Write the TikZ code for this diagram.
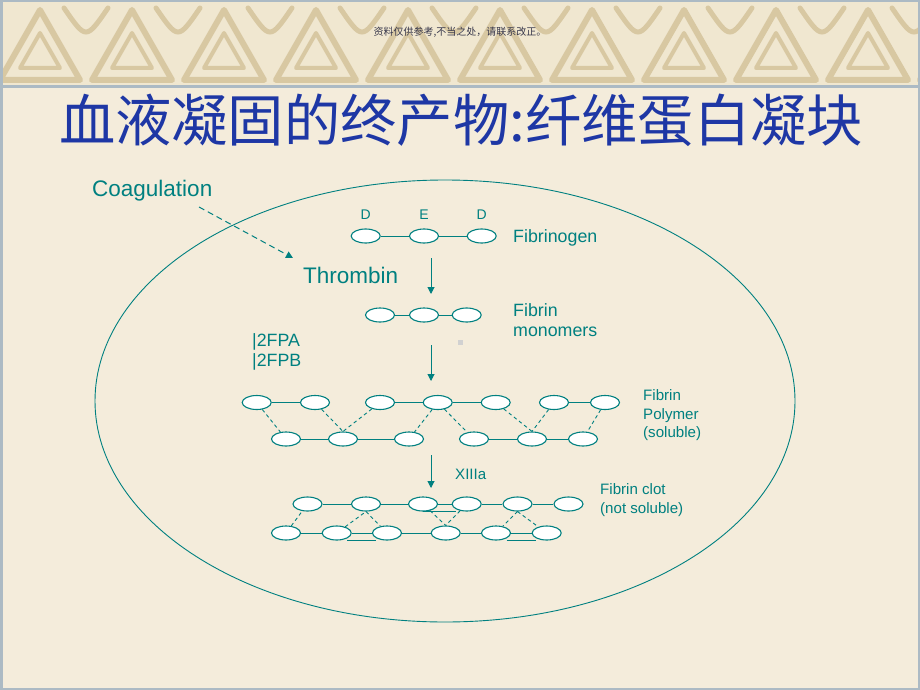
\documentclass[tikz,border=0pt]{standalone}
\usepackage{fontspec}
\setmainfont{Liberation Sans}
\newfontfamily\cjk{Noto Sans CJK SC}
\usetikzlibrary{shapes.geometric,arrows.meta}

\definecolor{fibteal}{RGB}{0,128,128}
\definecolor{titleblue}{RGB}{30,55,165}
\definecolor{paper}{RGB}{244,236,219}
\definecolor{band}{RGB}{240,231,208}
\definecolor{knot}{RGB}{216,200,162}
\definecolor{rim}{RGB}{172,186,196}
\definecolor{notegray}{RGB}{55,55,75}

\begin{document}
\begin{tikzpicture}[x=1pt, y=-1pt,
  blob/.style={ellipse, draw=fibteal, fill=white, line width=1.1pt,
    minimum width=29pt, minimum height=14pt, inner sep=0pt},
  bond/.style={fibteal, line width=1pt},
  link/.style={fibteal, line width=0.9pt, dash pattern=on 3.5pt off 3pt},
  flow/.style={fibteal, line width=1pt, -{Triangle[width=7pt,length=7pt]}},
  big/.style={fibteal, inner sep=0pt, font=\fontsize{22.5}{26}\selectfont},
  mid/.style={fibteal, inner sep=0pt, align=left, font=\fontsize{17.8}{20.5}\selectfont},
  small/.style={fibteal, inner sep=0pt, align=left, font=\fontsize{15.1}{18.5}\selectfont}]

% Background and frame
\fill[paper] (0,0) rectangle (920,690);
\useasboundingbox (0,0) rectangle (920,690);
\fill[band] (0,0) rectangle (920,87);
\foreach \cx in {40,132,...,960} {
  \draw[knot, line width=6pt, line join=round] (\cx-40,80) -- (\cx,10) -- (\cx+40,80) -- cycle;
  \draw[knot, line width=4pt, line join=round] (\cx-20,68) -- (\cx,33) -- (\cx+20,68) -- cycle;
  \draw[knot, line width=5pt, line cap=round] (\cx+24,8) .. controls (\cx+46,40) .. (\cx+68,8);
}
\draw[rim, line width=3pt] (0,87) -- (920,87);
\draw[rim, line width=2.5pt] (1.25,1.25) rectangle (918.75,688.75);
\node[notegray, font=\cjk\fontsize{10}{12}\selectfont] (note) at (460,32) {资料仅供参考,不当之处，请联系改正。};

% Title
\node[titleblue, font=\cjk\fontsize{56.3}{60}\selectfont] (title) at (461,120) {血液凝固的终产物:纤维蛋白凝块};

% Cell outline
\draw[fibteal, line width=0.9pt] (445,401) ellipse [x radius=350, y radius=221];
\fill[black!18] (458,340) rectangle (463,345);

% Coagulation -> Thrombin
\node[big, anchor=mid west] (coag) at (92,194) {Coagulation};
\node[big, anchor=mid west] (thr) at (303,281) {Thrombin};
\coordinate (c1) at (199,207);
\coordinate (c2) at (293,258);
\draw[flow, dash pattern=on 6pt off 4pt] (c1) -- (c2);

% Fibrinogen
\node[blob] (f1) at (365.7,236) {};
\node[blob] (f2) at (424,236) {};
\node[blob] (f3) at (481.7,236) {};
\draw[bond] (f1) -- (f2) (f2) -- (f3);
\node[fibteal, font=\fontsize{14}{16}\selectfont] (dl) at (365.7,215) {D};
\node[fibteal, font=\fontsize{14}{16}\selectfont] (el) at (424,215) {E};
\node[fibteal, font=\fontsize{14}{16}\selectfont] (dr) at (481.7,215) {D};
\node[mid, anchor=mid west] (fgen) at (513,240) {Fibrinogen};

\coordinate (a1) at (431,258);
\coordinate (a2) at (431,294);
\draw[flow] (a1) -- (a2);

% Fibrin monomers
\node[blob] (m1) at (380,315) {};
\node[blob] (m2) at (424,315) {};
\node[blob] (m3) at (466.7,315) {};
\draw[bond] (m1) -- (m2) (m2) -- (m3);
\node[mid, anchor=west] (mono) at (513,320) {Fibrin\\monomers};
\node[mid, anchor=west] (fp) at (252,352) {|2FPA\\|2FPB};

\coordinate (a3) at (431,345);
\coordinate (a4) at (431,381);
\draw[flow] (a3) -- (a4);

% Fibrin polymer
\node[blob] (t1) at (256.7,402.5) {};
\node[blob] (t2) at (315,402.5) {};
\node[blob] (t3) at (380,402.5) {};
\node[blob] (t4) at (437.7,402.5) {};
\node[blob] (t5) at (495.7,402.5) {};
\node[blob] (t6) at (554,402.5) {};
\node[blob] (t7) at (605,402.5) {};
\node[blob] (b1) at (286,439) {};
\node[blob] (b2) at (343,439) {};
\node[blob] (b3) at (409,439) {};
\node[blob] (b4) at (474,439) {};
\node[blob] (b5) at (532,439) {};
\node[blob] (b6) at (583,439) {};
\draw[bond] (t1) -- (t2) (t3) -- (t4) (t4) -- (t5) (t6) -- (t7);
\draw[bond] (b1) -- (b2) (b2) -- (b3) (b4) -- (b5) (b5) -- (b6);
\draw[link] (t1) -- (b1) (t2) -- (b2.north) (t3) -- (b2.north) (t4) -- (b3)
  (t4) -- (b4) (t5) -- (b5.north) (t6) -- (b5.north) (t7) -- (b6);
\node[small, anchor=west] (poly) at (643,415.5) {Fibrin\\Polymer\\(soluble)};

\coordinate (a5) at (431,455);
\coordinate (a6) at (431,488);
\draw[flow] (a5) -- (a6);
\node[small, anchor=mid west] (f13) at (455,477) {XIIIa};

% Fibrin clot
\node[blob] (T1) at (307.5,504) {};
\node[blob] (T2) at (366,504) {};
\node[blob] (T3) at (423,504) {};
\node[blob] (T4) at (466.7,504) {};
\node[blob] (T5) at (517.5,504) {};
\node[blob] (T6) at (568.5,504) {};
\node[blob] (B1) at (286,533) {};
\node[blob] (B2) at (336.7,533) {};
\node[blob] (B3) at (387,533) {};
\node[blob] (B4) at (445.7,533) {};
\node[blob] (B5) at (496,533) {};
\node[blob] (B6) at (546.7,533) {};
\draw[bond] (T1) -- (T2) (T2) -- (T3) (T3) -- (T4) (T4) -- (T5) (T5) -- (T6);
\draw[bond] (B1) -- (B2) (B2) -- (B3) (B3) -- (B4) (B4) -- (B5) (B5) -- (B6);
\draw[bond] (T3.south) -- (T4.south west |- T3.south);
\draw[bond] (B2.south east |- B2.south) -- (B3.south west |- B3.south);
\draw[bond] (B5.south east |- B5.south) -- (B6.south west |- B6.south);
\draw[link] (B1) -- (T1) (B2) -- (T2.south) (T2.south) -- (B3) (T3) -- (B4.north)
  (T4) -- (B4.north) (T5.south) -- (B5) (T5.south) -- (B6);
\node[small, anchor=west] (clot) at (600,500) {Fibrin clot\\(not soluble)};

\end{tikzpicture}
\end{document}
